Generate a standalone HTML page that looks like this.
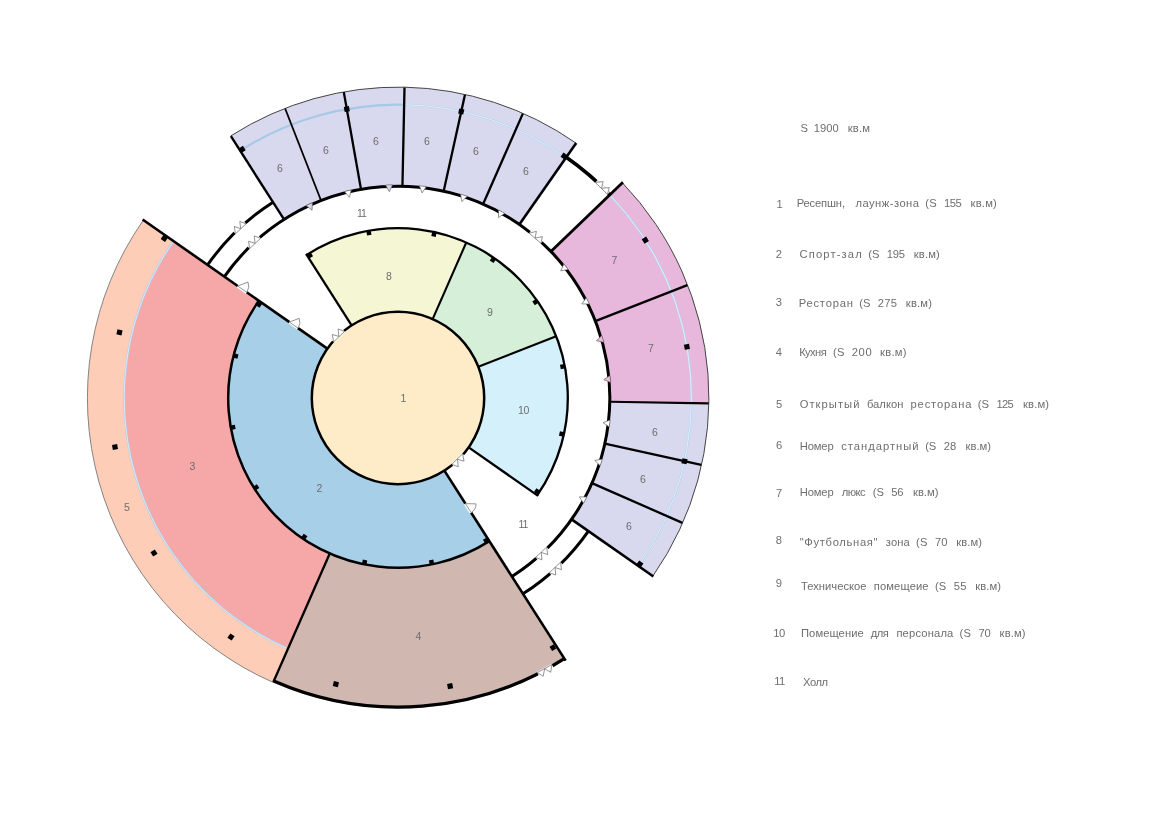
<!DOCTYPE html>
<html lang="ru">
<head>
<meta charset="utf-8">
<title>План</title>
<style>
html,body{margin:0;padding:0;background:#fff;}
body{width:1152px;height:814px;overflow:hidden;font-family:"Liberation Sans",sans-serif;}
svg{display:block;}
svg text{font-family:"Liberation Sans",sans-serif;will-change:transform;}
</style>
</head>
<body>
<svg width="1152" height="814" viewBox="0 0 1152 814">
<rect width="1152" height="814" fill="#fff"/>
<path d="M273.16 682.4 A310.6 310.6 0 0 1 143.42 220.07 L173.58 241.15 A273.8 273.8 0 0 0 287.95 648.71 Z" fill="#fecdb8"/>
<path d="M287.95 648.71 A273.8 273.8 0 0 1 173.58 241.15 L258.82 300.73 A169.8 169.8 0 0 0 329.75 553.48 Z" fill="#f6a8a8"/>
<path d="M565.11 659.81 A310.6 310.6 0 0 1 273.16 682.4 L329.75 553.48 A169.8 169.8 0 0 0 489.36 541.13 Z" fill="#d0b8b0"/>
<path d="M489.36 541.13 A169.8 169.8 0 0 1 258.82 300.73 L327.35 348.62 A86.2 86.2 0 0 0 444.38 470.66 Z" fill="#a8cfe8"/>
<path d="M230.72 135.94 A310.9 310.9 0 0 1 576.1 143.17 L519.33 224.4 A211.8 211.8 0 0 0 284.04 219.47 Z" fill="#d8d8ee"/>
<path d="M622.4 182.81 A310.9 310.9 0 0 1 708.83 404.51 L609.75 402.44 A211.8 211.8 0 0 0 550.87 251.4 Z" fill="#e8b8dc"/>
<path d="M708.83 404.51 A310.9 310.9 0 0 1 652.83 576.1 L571.6 519.33 A211.8 211.8 0 0 0 609.75 402.44 Z" fill="#d8d8ee"/>
<path d="M306.64 254.87 A169.8 169.8 0 0 1 466.25 242.52 L432.65 319.07 A86.2 86.2 0 0 0 351.62 325.34 Z" fill="#f5f7d4"/>
<path d="M466.25 242.52 A169.8 169.8 0 0 1 556.2 336.32 L478.31 366.69 A86.2 86.2 0 0 0 432.65 319.07 Z" fill="#d6efd8"/>
<path d="M556.2 336.32 A169.8 169.8 0 0 1 537.18 495.27 L468.65 447.38 A86.2 86.2 0 0 0 478.31 366.69 Z" fill="#d4f0fb"/>
<circle cx="398" cy="398" r="86.2" fill="#feecc8"/>
<path d="M287.95 648.71 A273.8 273.8 0 0 1 173.58 241.15" fill="none" stroke="#a9cdea" stroke-width="1.9"/>
<path d="M287.95 648.71 A273.8 273.8 0 0 1 173.58 241.15" fill="none" stroke="#e6f0fa" stroke-width="0.8"/>
<path d="M240.14 150.69 A293.4 293.4 0 0 1 404.14 104.66" fill="none" stroke="#a6c9e7" stroke-width="2.1"/>
<path d="M404.14 104.66 A293.4 293.4 0 0 1 566.08 157.51" fill="none" stroke="#aed3ef" stroke-width="1.9"/>
<path d="M404.14 104.66 A293.4 293.4 0 0 1 566.08 157.51" fill="none" stroke="#e6f2fb" stroke-width="0.9"/>
<path d="M609.76 194.93 A293.4 293.4 0 0 1 638.49 566.08" fill="none" stroke="#aed3ef" stroke-width="1.9"/>
<path d="M609.76 194.93 A293.4 293.4 0 0 1 638.49 566.08" fill="none" stroke="#e6f2fb" stroke-width="0.9"/>
<path d="M273.16 682.4 A310.6 310.6 0 0 1 143.42 220.07" fill="none" stroke="#777" stroke-width="0.9"/>
<path d="M230.72 135.94 A310.9 310.9 0 0 1 576.1 143.17" fill="none" stroke="#444" stroke-width="1"/>
<path d="M622.4 182.81 A310.9 310.9 0 0 1 652.83 576.1" fill="none" stroke="#444" stroke-width="1"/>
<circle cx="398" cy="398" r="86.2" fill="none" stroke="#000" stroke-width="2.5"/>
<path d="M489.36 541.13 A169.8 169.8 0 0 1 258.82 300.73" fill="none" stroke="#000" stroke-width="2.5" stroke-linecap="butt"/>
<path d="M306.64 254.87 A169.8 169.8 0 0 1 537.18 495.27" fill="none" stroke="#000" stroke-width="2.3" stroke-linecap="butt"/>
<path d="M351.62 325.34 L306.05 253.94" fill="none" stroke="#000" stroke-width="2.3" stroke-linecap="butt"/>
<path d="M432.65 319.07 L466.25 242.52" fill="none" stroke="#000" stroke-width="2.1" stroke-linecap="butt"/>
<path d="M478.31 366.69 L556.2 336.32" fill="none" stroke="#000" stroke-width="2.1" stroke-linecap="butt"/>
<path d="M468.65 447.38 L538.08 495.9" fill="none" stroke="#000" stroke-width="2.3" stroke-linecap="butt"/>
<path d="M327.35 348.62 L142.6 219.5" fill="none" stroke="#000" stroke-width="2.6" stroke-linecap="butt"/>
<path d="M444.38 470.66 L565.65 660.65" fill="none" stroke="#000" stroke-width="2.6" stroke-linecap="butt"/>
<path d="M329.75 553.48 L273.36 681.95" fill="none" stroke="#000" stroke-width="2.3" stroke-linecap="butt"/>
<path d="M564.31 658.55 A309.1 309.1 0 0 1 273.76 681.03" fill="none" stroke="#000" stroke-width="3.3" stroke-linecap="butt"/>
<path d="M224.4 276.67 A211.8 211.8 0 1 1 511.96 576.53" fill="none" stroke="#000" stroke-width="3" stroke-linecap="butt"/>
<path d="M207.59 264.92 A232.3 232.3 0 0 1 273.01 202.19" fill="none" stroke="#000" stroke-width="3" stroke-linecap="butt"/>
<path d="M588.41 531.08 A232.3 232.3 0 0 1 522.99 593.81" fill="none" stroke="#000" stroke-width="3" stroke-linecap="butt"/>
<path d="M566.25 157.27 A293.7 293.7 0 0 1 609.98 194.72" fill="none" stroke="#000" stroke-width="3.6" stroke-linecap="butt"/>
<path d="M284.04 219.47 L230.89 136.19" fill="none" stroke="#000" stroke-width="2.4" stroke-linecap="butt"/>
<path d="M321.06 200.67 L285.17 108.62" fill="none" stroke="#000" stroke-width="1.7" stroke-linecap="butt"/>
<path d="M361.04 189.45 L343.8 92.17" fill="none" stroke="#000" stroke-width="2.3" stroke-linecap="butt"/>
<path d="M402.44 186.25 L404.5 87.47" fill="none" stroke="#000" stroke-width="2.3" stroke-linecap="butt"/>
<path d="M443.66 191.18 L464.96 94.7" fill="none" stroke="#000" stroke-width="2.3" stroke-linecap="butt"/>
<path d="M483.13 204.06 L522.84 113.6" fill="none" stroke="#000" stroke-width="2.3" stroke-linecap="butt"/>
<path d="M519.33 224.4 L576.22 143.01" fill="none" stroke="#000" stroke-width="2.6" stroke-linecap="butt"/>
<path d="M550.87 251.4 L622.9 182.33" fill="none" stroke="#000" stroke-width="2.8" stroke-linecap="butt"/>
<path d="M595.33 321.06 L687.38 285.17" fill="none" stroke="#000" stroke-width="2.3" stroke-linecap="butt"/>
<path d="M609.77 401.7 L708.55 403.42" fill="none" stroke="#000" stroke-width="2.1" stroke-linecap="butt"/>
<path d="M604.82 443.66 L701.3 464.96" fill="none" stroke="#000" stroke-width="2.3" stroke-linecap="butt"/>
<path d="M591.94 483.13 L682.4 522.84" fill="none" stroke="#000" stroke-width="2.3" stroke-linecap="butt"/>
<path d="M571.6 519.33 L653.4 576.5" fill="none" stroke="#000" stroke-width="2.6" stroke-linecap="butt"/>
<rect x="483.72" y="538.43" width="4.8" height="4.5" fill="#000" transform="rotate(58.3 486.12 540.68)"/>
<rect x="429.15" y="560.06" width="4.8" height="4.5" fill="#000" transform="rotate(78.46 431.55 562.31)"/>
<rect x="362.17" y="560.08" width="4.8" height="4.5" fill="#000" transform="rotate(101.5 364.57 562.33)"/>
<rect x="301.82" y="534.78" width="4.8" height="4.5" fill="#000" transform="rotate(124 304.22 537.03)"/>
<rect x="253.69" y="485.11" width="4.8" height="4.5" fill="#000" transform="rotate(147.8 256.09 487.36)"/>
<rect x="230.47" y="425.01" width="4.8" height="4.5" fill="#000" transform="rotate(169.95 232.87 427.26)"/>
<rect x="233.24" y="353.76" width="4.8" height="4.5" fill="#000" transform="rotate(194.5 235.64 356.01)"/>
<rect x="256.41" y="302.22" width="4.8" height="4.5" fill="#000" transform="rotate(213.9 258.81 304.47)"/>
<rect x="307.48" y="253.07" width="4.8" height="4.5" fill="#000" transform="rotate(238.3 309.88 255.32)"/>
<rect x="366.48" y="230.6" width="4.8" height="4.5" fill="#000" transform="rotate(260 368.88 232.85)"/>
<rect x="431.61" y="231.96" width="4.8" height="4.5" fill="#000" transform="rotate(282.4 434.01 234.21)"/>
<rect x="490.59" y="257.54" width="4.8" height="4.5" fill="#000" transform="rotate(304.5 492.99 259.79)"/>
<rect x="533.14" y="299.8" width="4.8" height="4.5" fill="#000" transform="rotate(325.1 535.54 302.05)"/>
<rect x="560.33" y="364.33" width="4.8" height="4.5" fill="#000" transform="rotate(349.2 562.73 366.58)"/>
<rect x="559.39" y="431.76" width="4.8" height="4.5" fill="#000" transform="rotate(12.4 561.79 434.01)"/>
<rect x="534.79" y="489.28" width="4.8" height="4.5" fill="#000" transform="rotate(33.9 537.19 491.53)"/>
<rect x="239.49" y="146.85" width="5.2" height="5.2" fill="#000" transform="rotate(237.9 242.09 149.45)"/>
<rect x="344.2" y="106.5" width="5.2" height="5.2" fill="#000" transform="rotate(259.95 346.8 109.1)"/>
<rect x="458.65" y="108.9" width="5.2" height="5.2" fill="#000" transform="rotate(282.45 461.25 111.5)"/>
<rect x="561.58" y="153.6" width="5.2" height="5.2" fill="#000" transform="rotate(304.5 564.18 156.2)"/>
<rect x="642.71" y="237.54" width="5.2" height="5.2" fill="#000" transform="rotate(327.45 645.31 240.14)"/>
<rect x="684.3" y="344.2" width="5.2" height="5.2" fill="#000" transform="rotate(349.95 686.9 346.8)"/>
<rect x="681.9" y="458.65" width="5.2" height="5.2" fill="#000" transform="rotate(372.45 684.5 461.25)"/>
<rect x="637.2" y="561.58" width="5.2" height="5.2" fill="#000" transform="rotate(394.5 639.8 564.18)"/>
<rect x="550.45" y="645.12" width="5" height="5" fill="#000" transform="rotate(58.17 552.95 647.62)"/>
<rect x="447.5" y="683.53" width="5.2" height="5.2" fill="#000" transform="rotate(79.75 450.1 686.13)"/>
<rect x="333.27" y="681.53" width="5.2" height="5.2" fill="#000" transform="rotate(102.25 335.87 684.13)"/>
<rect x="228.4" y="634.4" width="5.2" height="5.2" fill="#000" transform="rotate(124.94 231 637)"/>
<rect x="151.4" y="550.4" width="5.2" height="5.2" fill="#000" transform="rotate(147.57 154 553)"/>
<rect x="112.4" y="444.4" width="5.2" height="5.2" fill="#000" transform="rotate(170.18 115 447)"/>
<rect x="116.9" y="329.8" width="5.2" height="5.2" fill="#000" transform="rotate(-166.75 119.5 332.4)"/>
<rect x="161.7" y="235.8" width="5.2" height="5.2" fill="#000" transform="rotate(-145.67 164.3 238.4)"/>
<path d="M306.04 205.54 L312.4 202.63 L312.04 210.24 Z" fill="#d8d8ee" stroke="#666" stroke-width="0.7" stroke-linejoin="round"/>
<path d="M344.45 191.53 L351.25 189.89 L349.44 197.29 Z" fill="#fff" stroke="#666" stroke-width="0.7" stroke-linejoin="round"/>
<path d="M385.57 185.06 L392.57 184.77 L389.35 191.68 Z" fill="#d8d8ee" stroke="#666" stroke-width="0.7" stroke-linejoin="round"/>
<path d="M419.41 185.78 L426.36 186.59 L422.09 192.91 Z" fill="#fff" stroke="#666" stroke-width="0.7" stroke-linejoin="round"/>
<path d="M460.58 194.09 L467.23 196.25 L461.81 201.61 Z" fill="#fff" stroke="#666" stroke-width="0.7" stroke-linejoin="round"/>
<path d="M498.66 209.95 L504.78 213.35 L498.43 217.57 Z" fill="#fff" stroke="#666" stroke-width="0.7" stroke-linejoin="round"/>
<path d="M563.91 263.94 L568.21 269.45 L560.72 270.87 Z" fill="#fff" stroke="#666" stroke-width="0.7" stroke-linejoin="round"/>
<path d="M586.26 297.73 L589.45 303.96 L581.83 303.93 Z" fill="#fff" stroke="#666" stroke-width="0.7" stroke-linejoin="round"/>
<path d="M601.94 335.49 L603.88 342.22 L596.4 340.73 Z" fill="#efb9dd" stroke="#666" stroke-width="0.7" stroke-linejoin="round"/>
<path d="M610.12 375.56 L610.74 382.53 L603.68 379.64 Z" fill="#efb9dd" stroke="#666" stroke-width="0.7" stroke-linejoin="round"/>
<path d="M610.17 419.96 L609.33 426.91 L603.03 422.63 Z" fill="#fff" stroke="#666" stroke-width="0.7" stroke-linejoin="round"/>
<path d="M602.35 459.15 L600.23 465.82 L594.83 460.44 Z" fill="#fff" stroke="#666" stroke-width="0.7" stroke-linejoin="round"/>
<path d="M586.92 497.02 L583.57 503.16 L579.3 496.85 Z" fill="#fff" stroke="#666" stroke-width="0.7" stroke-linejoin="round"/>
<path d="M248.76 247.71 A211.8 211.8 0 0 1 259.89 237.43" fill="none" stroke="#fff" stroke-width="4.4"/>
<path d="M249.6 248.56 L248.6 241.17 L255.04 243.35 L254.3 235.93 L260.67 238.34 Z" fill="#fff" stroke="#666" stroke-width="0.7" stroke-linejoin="round"/>
<path d="M234.6 232.88 A232.3 232.3 0 0 1 245.29 222.95" fill="none" stroke="#fff" stroke-width="4.4"/>
<path d="M235.45 233.73 L234.32 226.46 L240.69 228.71 L239.79 221.4 L246.08 223.85 Z" fill="#fff" stroke="#666" stroke-width="0.7" stroke-linejoin="round"/>
<path d="M529.85 232.24 A211.8 211.8 0 0 1 541.63 242.35" fill="none" stroke="#fff" stroke-width="4.4"/>
<path d="M529.1 233.18 L536.41 231.39 L535.05 238.1 L542.42 236.58 L540.82 243.23 Z" fill="#fff" stroke="#666" stroke-width="0.7" stroke-linejoin="round"/>
<path d="M596.22 181.68 A293.4 293.4 0 0 1 608.34 193.45" fill="none" stroke="#fff" stroke-width="4.4"/>
<path d="M595.41 182.57 L603.1 181.54 L601.53 188.34 L609.25 187.53 L607.48 194.29 Z" fill="#fff" stroke="#666" stroke-width="0.7" stroke-linejoin="round"/>
<path d="M547.5 548.03 A211.8 211.8 0 0 1 536.39 558.33" fill="none" stroke="#fff" stroke-width="4.4"/>
<path d="M546.66 547.18 L547.68 554.57 L541.23 552.4 L541.98 559.82 L535.61 557.42 Z" fill="#fff" stroke="#666" stroke-width="0.7" stroke-linejoin="round"/>
<path d="M561.4 563.12 A232.3 232.3 0 0 1 550.1 573.58" fill="none" stroke="#fff" stroke-width="4.4"/>
<path d="M560.55 562.27 L561.5 569.71 L555.02 567.56 L555.72 575.03 L549.31 572.68 Z" fill="#fff" stroke="#666" stroke-width="0.7" stroke-linejoin="round"/>
<path d="M552.55 665.69 A309.1 309.1 0 0 1 537.85 673.65" fill="none" stroke="#fff" stroke-width="4.5"/>
<path d="M551.93 664.61 L550.64 672.23 L544.66 668.67 L543.17 676.26 L537.28 672.54 Z" fill="#fff" stroke="#666" stroke-width="0.7" stroke-linejoin="round"/>
<path d="M463.25 454.32 A86.2 86.2 0 0 1 452.36 464.9" fill="none" stroke="#fff" stroke-width="3.6"/>
<path d="M462.65 453.8 L464.05 461.18 L457.48 459.28 L458.23 466.75 L451.86 464.27 Z" fill="#fff" stroke="#666" stroke-width="0.7" stroke-linejoin="round"/>
<path d="M333.04 341.33 A86.2 86.2 0 0 1 343.99 330.82" fill="none" stroke="#fff" stroke-width="3.6"/>
<path d="M333.65 341.86 L332.28 334.47 L338.84 336.41 L338.13 328.94 L344.49 331.44 Z" fill="#fff" stroke="#666" stroke-width="0.7" stroke-linejoin="round"/>
<path d="M246.77 292.31 L237.76 286.01" stroke="#fff" stroke-width="3.6" fill="none"/>
<path d="M237.76 286.01 L248.02 282.05 A11 11 0 0 1 246.77 292.31 Z" fill="#fff" stroke="#666" stroke-width="0.7" stroke-linejoin="round"/>
<path d="M298 328.11 L289.4 322.1" stroke="#fff" stroke-width="3.6" fill="none"/>
<path d="M289.4 322.1 L299.2 318.32 A10.5 10.5 0 0 1 298 328.11 Z" fill="#fff" stroke="#666" stroke-width="0.7" stroke-linejoin="round"/>
<path d="M465.42 503.62 L471.17 512.64" stroke="#fff" stroke-width="3.6" fill="none"/>
<path d="M465.42 503.62 L476.11 503.89 A10.7 10.7 0 0 1 471.17 512.64 Z" fill="#fff" stroke="#666" stroke-width="0.7" stroke-linejoin="round"/>
<text x="403.5" y="402" font-size="10.5" fill="#6e6e6e" text-anchor="middle">1</text>
<text x="319.5" y="492" font-size="10.5" fill="#6e6e6e" text-anchor="middle">2</text>
<text x="192.5" y="470" font-size="10.5" fill="#6e6e6e" text-anchor="middle">3</text>
<text x="418.5" y="640" font-size="10.5" fill="#6e6e6e" text-anchor="middle">4</text>
<text x="127" y="511" font-size="10.5" fill="#6e6e6e" text-anchor="middle">5</text>
<text x="389" y="280" font-size="10.5" fill="#6e6e6e" text-anchor="middle">8</text>
<text x="490" y="316" font-size="10.5" fill="#6e6e6e" text-anchor="middle">9</text>
<text x="523.5" y="414" font-size="10.5" fill="#6e6e6e" text-anchor="middle" letter-spacing="-0.4">10</text>
<text x="361.5" y="217" font-size="10.5" fill="#6e6e6e" text-anchor="middle" letter-spacing="-0.9">11</text>
<text x="523" y="528" font-size="10.5" fill="#6e6e6e" text-anchor="middle" letter-spacing="-0.9">11</text>
<text x="614.5" y="264" font-size="10.5" fill="#6e6e6e" text-anchor="middle">7</text>
<text x="651" y="352" font-size="10.5" fill="#6e6e6e" text-anchor="middle">7</text>
<text x="280" y="172" font-size="10.5" fill="#6e6e6e" text-anchor="middle">6</text>
<text x="326" y="154" font-size="10.5" fill="#6e6e6e" text-anchor="middle">6</text>
<text x="376" y="145" font-size="10.5" fill="#6e6e6e" text-anchor="middle">6</text>
<text x="427" y="145" font-size="10.5" fill="#6e6e6e" text-anchor="middle">6</text>
<text x="476" y="155" font-size="10.5" fill="#6e6e6e" text-anchor="middle">6</text>
<text x="526" y="175" font-size="10.5" fill="#6e6e6e" text-anchor="middle">6</text>
<text x="655" y="436" font-size="10.5" fill="#6e6e6e" text-anchor="middle">6</text>
<text x="643" y="483" font-size="10.5" fill="#6e6e6e" text-anchor="middle">6</text>
<text x="629" y="530" font-size="10.5" fill="#6e6e6e" text-anchor="middle">6</text>
<text x="800.6" y="132.3" font-size="11.2" fill="#6e6e6e" textLength="5.9" lengthAdjust="spacing">S</text>
<text x="813.7" y="132.3" font-size="11.2" fill="#6e6e6e" textLength="25.1" lengthAdjust="spacing">1900</text>
<text x="847.7" y="132.3" font-size="11.2" fill="#6e6e6e" textLength="22.3" lengthAdjust="spacing">кв.м</text>
<text x="779.5" y="208" font-size="11.2" fill="#6e6e6e" text-anchor="middle">1</text>
<text x="796.7" y="206.9" font-size="11.2" fill="#6e6e6e" textLength="48.3" lengthAdjust="spacing">Ресепшн,</text>
<text x="855.4" y="206.9" font-size="11.2" fill="#6e6e6e" textLength="63.6" lengthAdjust="spacing">лаунж-зона</text>
<text x="925.2" y="206.9" font-size="11.2" fill="#6e6e6e" textLength="11.5" lengthAdjust="spacing">(S</text>
<text x="944" y="206.9" font-size="11.2" fill="#6e6e6e" textLength="17.7" lengthAdjust="spacing">155</text>
<text x="970.6" y="206.9" font-size="11.2" fill="#6e6e6e" textLength="26.2" lengthAdjust="spacing">кв.м)</text>
<text x="778.8" y="257.5" font-size="11.2" fill="#6e6e6e" text-anchor="middle">2</text>
<text x="799.6" y="257.5" font-size="11.2" fill="#6e6e6e" textLength="62.1" lengthAdjust="spacing">Спорт-зал</text>
<text x="868.3" y="257.5" font-size="11.2" fill="#6e6e6e" textLength="11.1" lengthAdjust="spacing">(S</text>
<text x="886.7" y="257.5" font-size="11.2" fill="#6e6e6e" textLength="18.3" lengthAdjust="spacing">195</text>
<text x="913.7" y="257.5" font-size="11.2" fill="#6e6e6e" textLength="26.1" lengthAdjust="spacing">кв.м)</text>
<text x="778.8" y="305.9" font-size="11.2" fill="#6e6e6e" text-anchor="middle">3</text>
<text x="798.7" y="306.6" font-size="11.2" fill="#6e6e6e" textLength="54.2" lengthAdjust="spacing">Ресторан</text>
<text x="859.2" y="306.6" font-size="11.2" fill="#6e6e6e" textLength="11.2" lengthAdjust="spacing">(S</text>
<text x="877.7" y="306.6" font-size="11.2" fill="#6e6e6e" textLength="19.3" lengthAdjust="spacing">275</text>
<text x="905.8" y="306.6" font-size="11.2" fill="#6e6e6e" textLength="26.2" lengthAdjust="spacing">кв.м)</text>
<text x="778.8" y="356.2" font-size="11.2" fill="#6e6e6e" text-anchor="middle">4</text>
<text x="799.2" y="356.2" font-size="11.2" fill="#6e6e6e" textLength="27.5" lengthAdjust="spacing">Кухня</text>
<text x="833.1" y="356.2" font-size="11.2" fill="#6e6e6e" textLength="11.3" lengthAdjust="spacing">(S</text>
<text x="851.7" y="356.2" font-size="11.2" fill="#6e6e6e" textLength="20" lengthAdjust="spacing">200</text>
<text x="880" y="356.2" font-size="11.2" fill="#6e6e6e" textLength="26.5" lengthAdjust="spacing">кв.м)</text>
<text x="779.2" y="407.7" font-size="11.2" fill="#6e6e6e" text-anchor="middle">5</text>
<text x="799.7" y="407.7" font-size="11.2" fill="#6e6e6e" textLength="59.7" lengthAdjust="spacing">Открытый</text>
<text x="866.9" y="407.7" font-size="11.2" fill="#6e6e6e" textLength="36.5" lengthAdjust="spacing">балкон</text>
<text x="910.5" y="407.7" font-size="11.2" fill="#6e6e6e" textLength="60.9" lengthAdjust="spacing">ресторана</text>
<text x="977.7" y="407.7" font-size="11.2" fill="#6e6e6e" textLength="11.3" lengthAdjust="spacing">(S</text>
<text x="996.6" y="407.7" font-size="11.2" fill="#6e6e6e" textLength="17.1" lengthAdjust="spacing">125</text>
<text x="1023" y="407.7" font-size="11.2" fill="#6e6e6e" textLength="26" lengthAdjust="spacing">кв.м)</text>
<text x="779.2" y="449.2" font-size="11.2" fill="#6e6e6e" text-anchor="middle">6</text>
<text x="799.7" y="450.3" font-size="11.2" fill="#6e6e6e" textLength="34" lengthAdjust="spacing">Номер</text>
<text x="841.2" y="450.3" font-size="11.2" fill="#6e6e6e" textLength="77.3" lengthAdjust="spacing">стандартный</text>
<text x="925.3" y="450.3" font-size="11.2" fill="#6e6e6e" textLength="10.9" lengthAdjust="spacing">(S</text>
<text x="943.7" y="450.3" font-size="11.2" fill="#6e6e6e" textLength="12.6" lengthAdjust="spacing">28</text>
<text x="965.6" y="450.3" font-size="11.2" fill="#6e6e6e" textLength="25.4" lengthAdjust="spacing">кв.м)</text>
<text x="779.2" y="497.3" font-size="11.2" fill="#6e6e6e" text-anchor="middle">7</text>
<text x="799.7" y="496" font-size="11.2" fill="#6e6e6e" textLength="34" lengthAdjust="spacing">Номер</text>
<text x="841.7" y="496" font-size="11.2" fill="#6e6e6e" textLength="24" lengthAdjust="spacing">люкс</text>
<text x="872.7" y="496" font-size="11.2" fill="#6e6e6e" textLength="11.3" lengthAdjust="spacing">(S</text>
<text x="891.3" y="496" font-size="11.2" fill="#6e6e6e" textLength="12.1" lengthAdjust="spacing">56</text>
<text x="913" y="496" font-size="11.2" fill="#6e6e6e" textLength="25.4" lengthAdjust="spacing">кв.м)</text>
<text x="778.8" y="543.6" font-size="11.2" fill="#6e6e6e" text-anchor="middle">8</text>
<text x="799.7" y="545.5" font-size="11.2" fill="#6e6e6e" textLength="77.8" lengthAdjust="spacing">&quot;Футбольная&quot;</text>
<text x="885.8" y="545.5" font-size="11.2" fill="#6e6e6e" textLength="24" lengthAdjust="spacing">зона</text>
<text x="916" y="545.5" font-size="11.2" fill="#6e6e6e" textLength="11.4" lengthAdjust="spacing">(S</text>
<text x="935" y="545.5" font-size="11.2" fill="#6e6e6e" textLength="12.5" lengthAdjust="spacing">70</text>
<text x="956.3" y="545.5" font-size="11.2" fill="#6e6e6e" textLength="25.7" lengthAdjust="spacing">кв.м)</text>
<text x="778.8" y="587" font-size="11.2" fill="#6e6e6e" text-anchor="middle">9</text>
<text x="801" y="590.4" font-size="11.2" fill="#6e6e6e" textLength="65.5" lengthAdjust="spacing">Техническое</text>
<text x="873.8" y="590.4" font-size="11.2" fill="#6e6e6e" textLength="54.8" lengthAdjust="spacing">помещеие</text>
<text x="935" y="590.4" font-size="11.2" fill="#6e6e6e" textLength="11.3" lengthAdjust="spacing">(S</text>
<text x="953.8" y="590.4" font-size="11.2" fill="#6e6e6e" textLength="12.6" lengthAdjust="spacing">55</text>
<text x="975.2" y="590.4" font-size="11.2" fill="#6e6e6e" textLength="25.8" lengthAdjust="spacing">кв.м)</text>
<text x="778.9" y="637.2" font-size="11.2" fill="#6e6e6e" text-anchor="middle" letter-spacing="-0.6">10</text>
<text x="801" y="637.2" font-size="11.2" fill="#6e6e6e" textLength="62.7" lengthAdjust="spacing">Помещение</text>
<text x="870.7" y="637.2" font-size="11.2" fill="#6e6e6e" textLength="18.2" lengthAdjust="spacing">для</text>
<text x="896.4" y="637.2" font-size="11.2" fill="#6e6e6e" textLength="56.9" lengthAdjust="spacing">персонала</text>
<text x="959.6" y="637.2" font-size="11.2" fill="#6e6e6e" textLength="11.4" lengthAdjust="spacing">(S</text>
<text x="978.5" y="637.2" font-size="11.2" fill="#6e6e6e" textLength="12.3" lengthAdjust="spacing">70</text>
<text x="999.6" y="637.2" font-size="11.2" fill="#6e6e6e" textLength="26" lengthAdjust="spacing">кв.м)</text>
<text x="779.5" y="684.6" font-size="11.2" fill="#6e6e6e" text-anchor="middle" letter-spacing="-0.6">11</text>
<text x="803" y="686.2" font-size="11.2" fill="#6e6e6e" textLength="25" lengthAdjust="spacing">Холл</text>
</svg>
</body>
</html>
